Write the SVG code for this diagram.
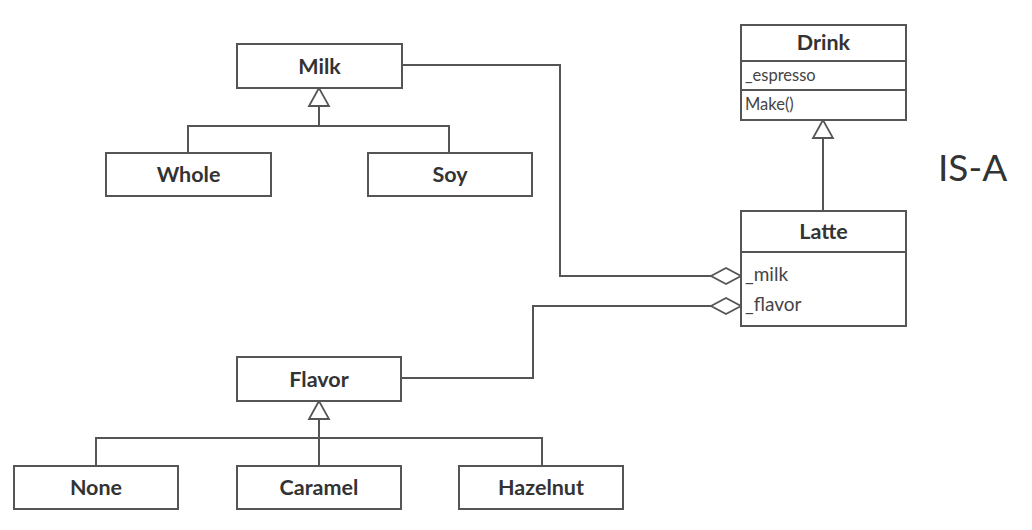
<svg xmlns="http://www.w3.org/2000/svg" width="1032" height="530" viewBox="0 0 1032 530">
<style>
.box{fill:#fff;stroke:#555;stroke-width:2}
.ln{fill:none;stroke:#555;stroke-width:2}
.tri{fill:#fff;stroke:#555;stroke-width:1.8}
.t{font-family:Lato,"Open Sans",sans-serif;font-weight:bold;font-size:21.5px;fill:#333;text-anchor:middle;dominant-baseline:central}
.a{font-family:Lato,"Open Sans",sans-serif;font-size:19px;fill:#444;dominant-baseline:central}
.s{font-family:Lato,"Open Sans",sans-serif;font-size:16.5px;fill:#444;dominant-baseline:central}
.big{font-family:Lato,"Open Sans",sans-serif;font-size:37px;fill:#333;dominant-baseline:central}
</style>
<defs>
<polygon id="triA" points="0,0 -10,18 10,18" class="tri"/>
<polygon id="dia" points="0,0 15,-8 30,0 15,8" class="tri"/>
</defs>
<g id="connectors">
<path class="ln" d="M319,106 V126 M188,153 V126 H449 V153"/>
<path class="ln" d="M319,419 V466 M96,466 V438 H542 V466"/>
<path class="ln" d="M823,139 V211"/>
<path class="ln" d="M402,65 H560 V276 H711"/>
<path class="ln" d="M401,378 H533 V306 H711"/>
<use href="#triA" x="319" y="88"/>
<use href="#triA" x="319" y="401"/>
<use href="#triA" x="823" y="120"/>
<use href="#dia" x="711" y="276"/>
<use href="#dia" x="711" y="306"/>
</g>
<g id="milk"><rect class="box" x="237" y="44" width="165" height="44"/><text class="t" x="319.5" y="66">Milk</text></g>
<g id="whole"><rect class="box" x="106" y="153" width="165" height="43"/><text class="t" x="188.5" y="174">Whole</text></g>
<g id="soy"><rect class="box" x="368" y="153" width="164" height="43"/><text class="t" x="450" y="174">Soy</text></g>
<g id="drink"><rect class="box" x="741" y="25" width="165" height="95"/>
<path class="ln" d="M741,61 H906 M741,90 H906"/>
<text class="t" x="823.5" y="42">Drink</text>
<text class="s" x="745" y="75">_espresso</text>
<text class="s" x="745" y="104">Make()</text></g>
<g id="latte"><rect class="box" x="741" y="211" width="165" height="115"/>
<path class="ln" d="M741,252 H906"/>
<text class="t" x="823.5" y="231">Latte</text>
<text class="a" x="745" y="273">_milk</text>
<text class="a" x="745" y="303">_flavor</text></g>
<g id="flavor"><rect class="box" x="237" y="357" width="164" height="44"/><text class="t" x="319" y="379">Flavor</text></g>
<g id="none"><rect class="box" x="14" y="466" width="164" height="43"/><text class="t" x="96" y="487">None</text></g>
<g id="caramel"><rect class="box" x="237" y="466" width="164" height="43"/><text class="t" x="319" y="487">Caramel</text></g>
<g id="hazelnut"><rect class="box" x="459" y="466" width="164" height="43"/><text class="t" x="541" y="487">Hazelnut</text></g>
<text class="big" x="938" y="166">IS-A</text>
</svg>
